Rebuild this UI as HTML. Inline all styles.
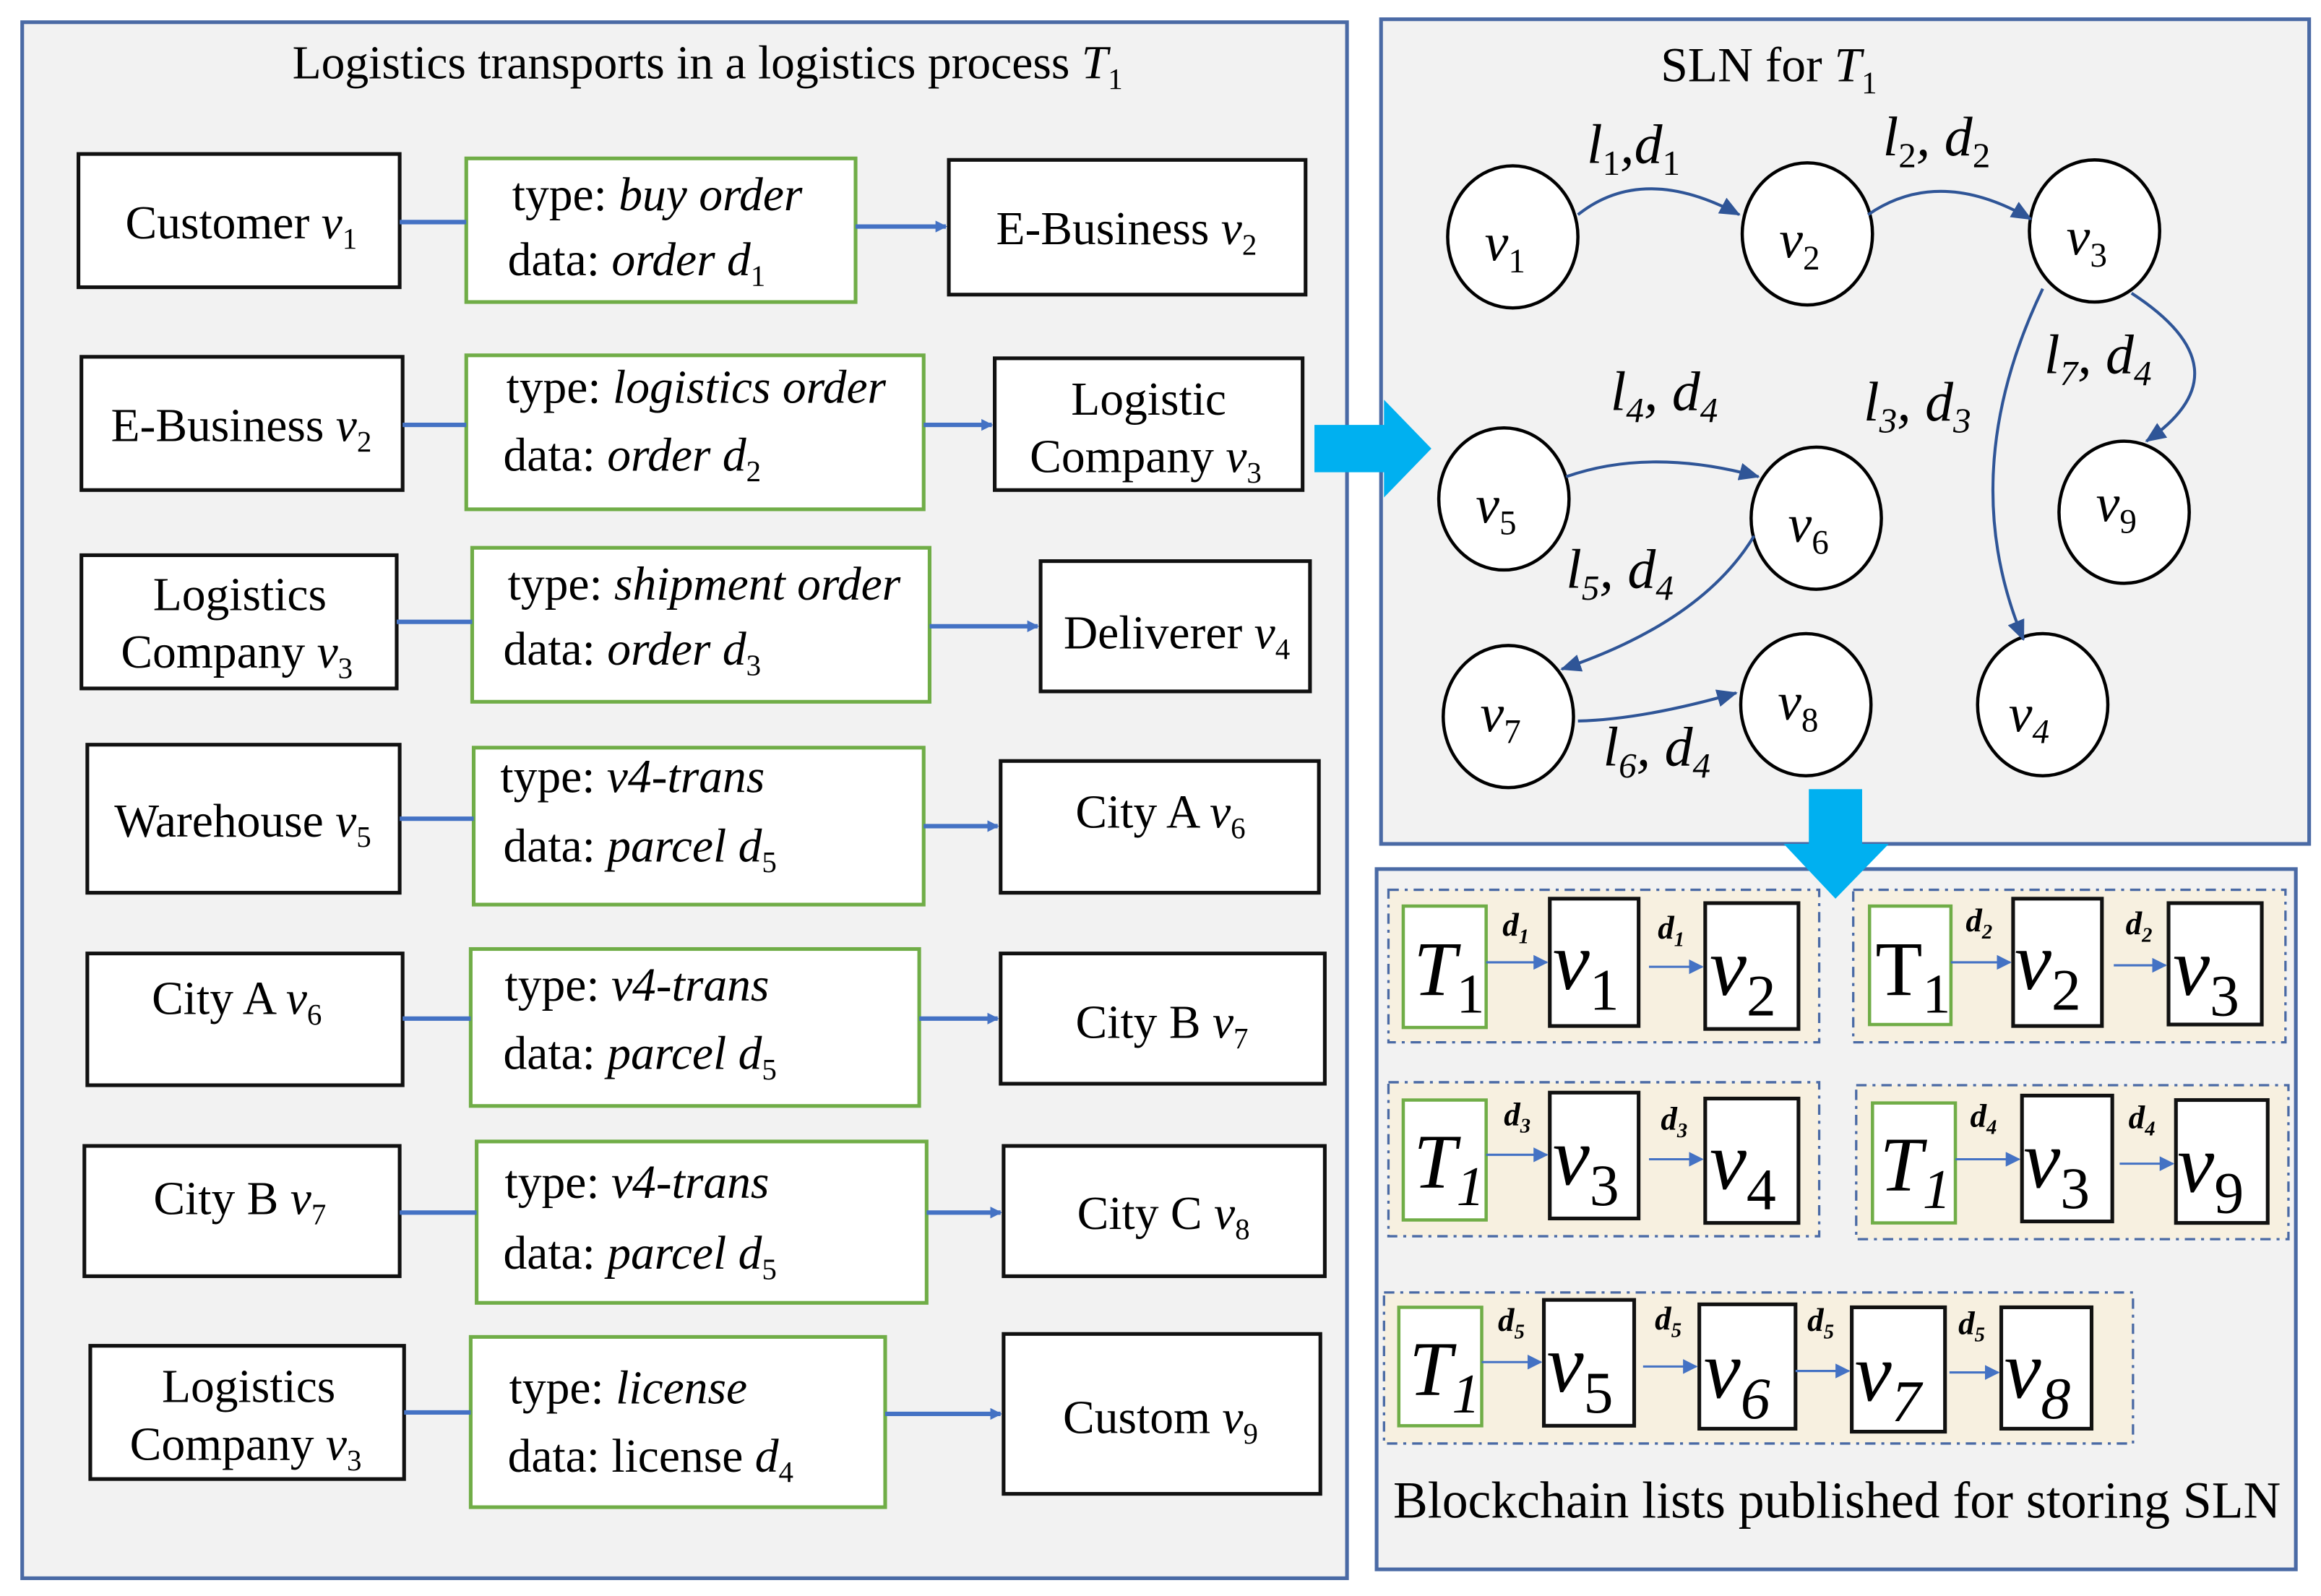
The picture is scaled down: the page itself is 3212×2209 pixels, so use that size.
<!DOCTYPE html>
<html><head><meta charset="utf-8"><style>
html,body{margin:0;padding:0;background:#fff}
svg{display:block}
text{font-family:"Liberation Serif","Times New Roman",serif;fill:#000}
</style></head><body>
<svg width="3212" height="2209" viewBox="0 0 1568 1078" preserveAspectRatio="none" xmlns="http://www.w3.org/2000/svg">
<defs>
<marker id="a" markerWidth="8" markerHeight="8" refX="7" refY="4" orient="auto" markerUnits="userSpaceOnUse"><path d="M0,0 L8,4 L0,8 Z" fill="#4472c4"/></marker>
<marker id="b" markerWidth="14" markerHeight="12" refX="13" refY="6" orient="auto" markerUnits="userSpaceOnUse"><path d="M0,0 L14,6 L0,12 Z" fill="#2f5597"/></marker>
<marker id="c" markerWidth="10" markerHeight="10" refX="9" refY="5" orient="auto" markerUnits="userSpaceOnUse"><path d="M0,0 L10,5 L0,10 Z" fill="#4472c4"/></marker>
</defs>
<rect width="1568" height="1078" fill="#fff"/>
<rect x="15" y="15" width="895" height="1051" fill="#f2f2f2" stroke="#4a6aa5" stroke-width="2.5"/>
<text x="478" y="53" font-size="32" text-anchor="middle">Logistics transports in a logistics process <tspan font-style="italic">T</tspan><tspan font-size="20" dy="7">1</tspan></text>

<g stroke-width="2.5">
<g fill="#fff" stroke="#111">
<rect x="53" y="104" width="217" height="90"/><rect x="641" y="108" width="241" height="91"/>
<rect x="55" y="241" width="217" height="90"/><rect x="672" y="242" width="208" height="89"/>
<rect x="55" y="375" width="213" height="90"/><rect x="703" y="379" width="182" height="88"/>
<rect x="59" y="503" width="211" height="100"/><rect x="676" y="514" width="215" height="89"/>
<rect x="59" y="644" width="213" height="89"/><rect x="676" y="644" width="219" height="88"/>
<rect x="57" y="774" width="213" height="88"/><rect x="678" y="774" width="217" height="88"/>
<rect x="61" y="909" width="212" height="90"/><rect x="678" y="901" width="214" height="108"/>
</g>
<g fill="#fff" stroke="#70ad47">
<rect x="315" y="107" width="263" height="97"/>
<rect x="315" y="240" width="309" height="104"/>
<rect x="319" y="370" width="309" height="104"/>
<rect x="320" y="505" width="304" height="106"/>
<rect x="318" y="641" width="303" height="106"/>
<rect x="322" y="771" width="304" height="109"/>
<rect x="318" y="903" width="280" height="115"/>
</g>
<g stroke="#4472c4" stroke-width="3" fill="none">
<line x1="270" y1="150" x2="315" y2="150"/><line x1="578" y1="153" x2="639" y2="153" marker-end="url(#a)"/>
<line x1="272" y1="287" x2="315" y2="287"/><line x1="624" y1="287" x2="670" y2="287" marker-end="url(#a)"/>
<line x1="268" y1="420" x2="319" y2="420"/><line x1="628" y1="423" x2="701" y2="423" marker-end="url(#a)"/>
<line x1="270" y1="553" x2="320" y2="553"/><line x1="624" y1="558" x2="674" y2="558" marker-end="url(#a)"/>
<line x1="272" y1="688" x2="318" y2="688"/><line x1="621" y1="688" x2="674" y2="688" marker-end="url(#a)"/>
<line x1="270" y1="819" x2="322" y2="819"/><line x1="626" y1="819" x2="676" y2="819" marker-end="url(#a)"/>
<line x1="273" y1="954" x2="318" y2="954"/><line x1="598" y1="955" x2="676" y2="955" marker-end="url(#a)"/>
</g>
</g>
<g font-size="32">
<text x="163" y="161" text-anchor="middle">Customer <tspan font-style="italic">v</tspan><tspan font-size="20" dy="7">1</tspan></text>
<text x="761" y="165" text-anchor="middle">E-Business <tspan font-style="italic">v</tspan><tspan font-size="20" dy="7">2</tspan></text>
<text x="346" y="142">type: <tspan font-style="italic">buy order</tspan></text>
<text x="343" y="186">data: <tspan font-style="italic">order d</tspan><tspan font-size="20" dy="7">1</tspan></text>

<text x="163" y="298" text-anchor="middle">E-Business <tspan font-style="italic">v</tspan><tspan font-size="20" dy="7">2</tspan></text>
<text x="776" y="280" text-anchor="middle">Logistic</text>
<text x="774" y="319" text-anchor="middle">Company <tspan font-style="italic">v</tspan><tspan font-size="20" dy="7">3</tspan></text>
<text x="342" y="272">type: <tspan font-style="italic">logistics order</tspan></text>
<text x="340" y="318">data: <tspan font-style="italic">order d</tspan><tspan font-size="20" dy="7">2</tspan></text>

<text x="162" y="412" text-anchor="middle">Logistics</text>
<text x="160" y="451" text-anchor="middle">Company <tspan font-style="italic">v</tspan><tspan font-size="20" dy="7">3</tspan></text>
<text x="343" y="405">type: <tspan font-style="italic">shipment order</tspan></text>
<text x="340" y="449">data: <tspan font-style="italic">order d</tspan><tspan font-size="20" dy="7">3</tspan></text>
<text x="795" y="438" text-anchor="middle">Deliverer <tspan font-style="italic">v</tspan><tspan font-size="20" dy="7">4</tspan></text>

<text x="164" y="565" text-anchor="middle">Warehouse <tspan font-style="italic">v</tspan><tspan font-size="20" dy="7">5</tspan></text>
<text x="338" y="535">type: <tspan font-style="italic">v4-trans</tspan></text>
<text x="340" y="582">data: <tspan font-style="italic">parcel d</tspan><tspan font-size="20" dy="7">5</tspan></text>
<text x="784" y="559" text-anchor="middle">City A <tspan font-style="italic">v</tspan><tspan font-size="20" dy="7">6</tspan></text>

<text x="160" y="685" text-anchor="middle">City A <tspan font-style="italic">v</tspan><tspan font-size="20" dy="7">6</tspan></text>
<text x="341" y="676">type: <tspan font-style="italic">v4-trans</tspan></text>
<text x="340" y="722">data: <tspan font-style="italic">parcel d</tspan><tspan font-size="20" dy="7">5</tspan></text>
<text x="785" y="701" text-anchor="middle">City B <tspan font-style="italic">v</tspan><tspan font-size="20" dy="7">7</tspan></text>

<text x="162" y="820" text-anchor="middle">City B <tspan font-style="italic">v</tspan><tspan font-size="20" dy="7">7</tspan></text>
<text x="341" y="809">type: <tspan font-style="italic">v4-trans</tspan></text>
<text x="340" y="857">data: <tspan font-style="italic">parcel d</tspan><tspan font-size="20" dy="7">5</tspan></text>
<text x="786" y="830" text-anchor="middle">City C <tspan font-style="italic">v</tspan><tspan font-size="20" dy="7">8</tspan></text>

<text x="168" y="947" text-anchor="middle">Logistics</text>
<text x="166" y="986" text-anchor="middle">Company <tspan font-style="italic">v</tspan><tspan font-size="20" dy="7">3</tspan></text>
<text x="344" y="948">type: <tspan font-style="italic">license</tspan></text>
<text x="343" y="994">data: license <tspan font-style="italic">d</tspan><tspan font-size="20" dy="7">4</tspan></text>
<text x="784" y="968" text-anchor="middle">Custom <tspan font-style="italic">v</tspan><tspan font-size="20" dy="7">9</tspan></text>
</g>

<rect x="933" y="13" width="627" height="557" fill="#f2f2f2" stroke="#4a6aa5" stroke-width="2.5"/>
<text x="1195" y="55" font-size="33" text-anchor="middle">SLN for <tspan font-style="italic">T</tspan><tspan font-size="21" dy="8">1</tspan></text>
<g fill="#fff" stroke="#000" stroke-width="2.2">
<ellipse cx="1022" cy="160" rx="44" ry="48"/><ellipse cx="1221" cy="158" rx="44" ry="48"/><ellipse cx="1415" cy="156" rx="44" ry="48"/>
<ellipse cx="1016" cy="337" rx="44" ry="48"/><ellipse cx="1227" cy="350" rx="44" ry="48"/><ellipse cx="1435" cy="346" rx="44" ry="48"/>
<ellipse cx="1019" cy="484" rx="44" ry="48"/><ellipse cx="1220" cy="476" rx="44" ry="48"/><ellipse cx="1380" cy="476" rx="44" ry="48"/>
</g>
<g font-size="36" font-style="italic">
<text x="1003" y="176">v<tspan font-size="23" dy="8" font-style="normal">1</tspan></text>
<text x="1202" y="174">v<tspan font-size="23" dy="8" font-style="normal">2</tspan></text>
<text x="1396" y="172">v<tspan font-size="23" dy="8" font-style="normal">3</tspan></text>
<text x="997" y="353">v<tspan font-size="23" dy="8" font-style="normal">5</tspan></text>
<text x="1208" y="366">v<tspan font-size="23" dy="8" font-style="normal">6</tspan></text>
<text x="1416" y="352">v<tspan font-size="23" dy="8" font-style="normal">9</tspan></text>
<text x="1000" y="494">v<tspan font-size="23" dy="8" font-style="normal">7</tspan></text>
<text x="1201" y="486">v<tspan font-size="23" dy="8" font-style="normal">8</tspan></text>
<text x="1357" y="494">v<tspan font-size="23" dy="8">4</tspan></text>
</g>
<g stroke="#2f5597" stroke-width="2" fill="none">
<path d="M1066,145 Q1110,110 1175,145" marker-end="url(#b)"/>
<path d="M1262,145 Q1310,112 1372,148" marker-end="url(#b)"/>
<path d="M1440,198 Q1520,250 1450,298" marker-end="url(#b)"/>
<path d="M1380,195 Q1320,320 1367,432" marker-end="url(#b)"/>
<path d="M1058,322 Q1115,302 1188,322" marker-end="url(#b)"/>
<path d="M1185,362 Q1150,420 1055,452" marker-end="url(#b)"/>
<path d="M1066,487 Q1110,486 1173,468" marker-end="url(#b)"/>
</g>
<g font-size="38" font-style="italic">
<text x="1072" y="110">l<tspan font-size="24" dy="8" font-style="normal">1</tspan><tspan dy="-8">,d</tspan><tspan font-size="24" dy="8" font-style="normal">1</tspan></text>
<text x="1272" y="105">l<tspan font-size="24" dy="8" font-style="normal">2</tspan><tspan dy="-8">, d</tspan><tspan font-size="24" dy="8" font-style="normal">2</tspan></text>
<text x="1381" y="252">l<tspan font-size="24" dy="8">7</tspan><tspan dy="-8">, d</tspan><tspan font-size="24" dy="8">4</tspan></text>
<text x="1259" y="284">l<tspan font-size="24" dy="8">3</tspan><tspan dy="-8">, d</tspan><tspan font-size="24" dy="8">3</tspan></text>
<text x="1088" y="277">l<tspan font-size="24" dy="8">4</tspan><tspan dy="-8">, d</tspan><tspan font-size="24" dy="8">4</tspan></text>
<text x="1058" y="397">l<tspan font-size="24" dy="8">5</tspan><tspan dy="-8">, d</tspan><tspan font-size="24" dy="8">4</tspan></text>
<text x="1083" y="517">l<tspan font-size="24" dy="8">6</tspan><tspan dy="-8">, d</tspan><tspan font-size="24" dy="8">4</tspan></text>
</g>

<rect x="930" y="587" width="621" height="473" fill="#f2f2f2" stroke="#4a6aa5" stroke-width="2.5"/>
<g fill="#f7f0e0" stroke="#4a6aa5" stroke-width="1.6" stroke-dasharray="7,4,2,4">
<rect x="938" y="601" width="291" height="103"/><rect x="1252" y="601" width="292" height="103"/>
<rect x="938" y="731" width="291" height="104"/><rect x="1254" y="733" width="292" height="104"/>
<rect x="935" y="873" width="506" height="102"/>
</g>
<path d="M888,287 L935,287 L935,270 L967,303 L935,336 L935,319 L888,319 Z" fill="#00b0f0"/>
<path d="M1222,533 L1258,533 L1258,570 L1276,570 L1240,607 L1205,570 L1222,570 Z" fill="#00b0f0"/>
<g fill="#fff" stroke="#70ad47" stroke-width="2.2">
<rect x="948" y="612" width="56" height="82"/><rect x="1263" y="612" width="55" height="80"/>
<rect x="948" y="743" width="56" height="81"/><rect x="1265" y="745" width="56" height="81"/>
<rect x="945" y="883" width="56" height="80"/>
</g>
<g fill="#fff" stroke="#111" stroke-width="2.5">
<rect x="1047" y="607" width="60" height="86"/><rect x="1152" y="610" width="63" height="85"/>
<rect x="1360" y="607" width="60" height="86"/><rect x="1465" y="610" width="63" height="82"/>
<rect x="1047" y="738" width="60" height="85"/><rect x="1152" y="742" width="63" height="84"/>
<rect x="1366" y="740" width="61" height="85"/><rect x="1470" y="743" width="62" height="83"/>
<rect x="1043" y="878" width="61" height="85"/><rect x="1148" y="881" width="65" height="84"/>
<rect x="1251" y="883" width="63" height="84"/><rect x="1352" y="883" width="61" height="82"/>
</g>
<g stroke="#4472c4" stroke-width="1.5" fill="none">
<line x1="1004" y1="650" x2="1045" y2="650" marker-end="url(#c)"/><line x1="1114" y1="653" x2="1150" y2="653" marker-end="url(#c)"/>
<line x1="1318" y1="650" x2="1358" y2="650" marker-end="url(#c)"/><line x1="1428" y1="652" x2="1463" y2="652" marker-end="url(#c)"/>
<line x1="1004" y1="780" x2="1045" y2="780" marker-end="url(#c)"/><line x1="1114" y1="783" x2="1150" y2="783" marker-end="url(#c)"/>
<line x1="1321" y1="783" x2="1364" y2="783" marker-end="url(#c)"/><line x1="1432" y1="786" x2="1468" y2="786" marker-end="url(#c)"/>
<line x1="1001" y1="920" x2="1041" y2="920" marker-end="url(#c)"/><line x1="1110" y1="923" x2="1146" y2="923" marker-end="url(#c)"/>
<line x1="1213" y1="926" x2="1249" y2="926" marker-end="url(#c)"/><line x1="1317" y1="927" x2="1350" y2="927" marker-end="url(#c)"/>
</g>
<g font-size="22" font-weight="bold" font-style="italic">
<text x="1015" y="632">d<tspan font-size="14" dy="5">1</tspan></text><text x="1120" y="634">d<tspan font-size="14" dy="5">1</tspan></text>
<text x="1328" y="629">d<tspan font-size="14" dy="5">2</tspan></text><text x="1436" y="631">d<tspan font-size="14" dy="5">2</tspan></text>
<text x="1016" y="760">d<tspan font-size="14" dy="5">3</tspan></text><text x="1122" y="763">d<tspan font-size="14" dy="5">3</tspan></text>
<text x="1331" y="761">d<tspan font-size="14" dy="5">4</tspan></text><text x="1438" y="762">d<tspan font-size="14" dy="5">4</tspan></text>
<text x="1012" y="899">d<tspan font-size="14" dy="5">5</tspan></text><text x="1118" y="898">d<tspan font-size="14" dy="5">5</tspan></text>
<text x="1221" y="899">d<tspan font-size="14" dy="5">5</tspan></text><text x="1323" y="901">d<tspan font-size="14" dy="5">5</tspan></text>
</g>
<g font-size="52">
<text x="955" y="672" font-style="italic">T<tspan font-size="38" dy="12" font-style="normal">1</tspan></text>
<text x="1267" y="672">T<tspan font-size="38" dy="12">1</tspan></text>
<text x="955" y="802" font-style="italic">T<tspan font-size="38" dy="12">1</tspan></text>
<text x="1270" y="804" font-style="italic">T<tspan font-size="38" dy="12">1</tspan></text>
<text x="952" y="942" font-style="italic">T<tspan font-size="38" dy="12">1</tspan></text>
</g>
<g font-size="56" font-style="italic">
<text x="1049" y="668">v<tspan font-size="40" dy="14" font-style="normal">1</tspan></text>
<text x="1155" y="672">v<tspan font-size="40" dy="14" font-style="normal">2</tspan></text>
<text x="1361" y="668">v<tspan font-size="40" dy="14" font-style="normal">2</tspan></text>
<text x="1468" y="672">v<tspan font-size="40" dy="14" font-style="normal">3</tspan></text>
<text x="1049" y="800">v<tspan font-size="40" dy="14" font-style="normal">3</tspan></text>
<text x="1155" y="803">v<tspan font-size="40" dy="14" font-style="normal">4</tspan></text>
<text x="1367" y="802">v<tspan font-size="40" dy="14" font-style="normal">3</tspan></text>
<text x="1471" y="805">v<tspan font-size="40" dy="14" font-style="normal">9</tspan></text>
<text x="1045" y="940">v<tspan font-size="40" dy="14" font-style="normal">5</tspan></text>
<text x="1151" y="944">v<tspan font-size="40" dy="14">6</tspan></text>
<text x="1253" y="946">v<tspan font-size="40" dy="14">7</tspan></text>
<text x="1354" y="944">v<tspan font-size="40" dy="14">8</tspan></text>
</g>
<text x="1241" y="1025" font-size="35" text-anchor="middle">Blockchain lists published for storing SLN</text>
</svg>
</body></html>
